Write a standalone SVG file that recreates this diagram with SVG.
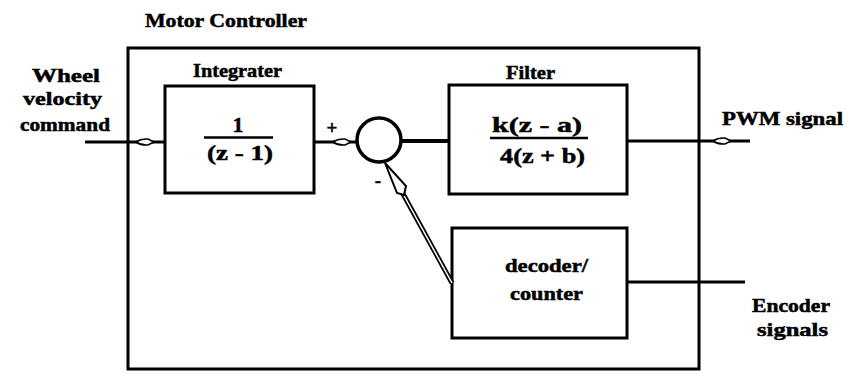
<svg xmlns="http://www.w3.org/2000/svg" width="848" height="374" viewBox="0 0 848 374">
<style>
.box{fill:none;stroke:#000;stroke-width:3}
.ln{fill:none;stroke:#000;stroke-width:3}
text{font-family:"Liberation Serif","DejaVu Serif","Noto Serif","Times New Roman",serif;font-weight:bold;fill:#000;stroke:#000;stroke-width:0.5}
.t{font-size:19px}
.m{font-size:22px}
.hm{fill:#fff;stroke:#000;stroke-width:1.6}
</style>
<defs>
<path id="hollow" d="M-9,0 Q-4,-3.5 3,-3 L9,0 L3,3 Q-4,3.5 -9,0 Z"/>
</defs>
<rect width="848" height="374" fill="#fff"/>
<text class="t" x="145" y="27" textLength="162" lengthAdjust="spacingAndGlyphs">Motor Controller</text>
<g id="controller">
<rect class="box" x="128" y="48" width="571" height="321"/>
</g>
<g id="inputLabel">
<text class="t" x="32" y="82" textLength="68" lengthAdjust="spacingAndGlyphs">Wheel</text>
<text class="t" x="23" y="105" textLength="79" lengthAdjust="spacingAndGlyphs">velocity</text>
<text class="t" x="20" y="131" textLength="90" lengthAdjust="spacingAndGlyphs">command</text>
</g>
<g id="integrator">
<text class="t" x="193" y="77" textLength="89" lengthAdjust="spacingAndGlyphs">Integrater</text>
<rect class="box" x="165" y="86" width="149" height="107"/>
<text class="m" x="238" y="132" text-anchor="middle">1</text>
<line x1="204" y1="137.5" x2="273" y2="137.5" stroke="#000" stroke-width="2.5"/>
<text class="m" x="207" y="160" textLength="66" lengthAdjust="spacingAndGlyphs">(z - 1)</text>
</g>
<g id="sum">
<circle cx="379" cy="140" r="22" fill="none" stroke="#000" stroke-width="3.5"/>
<text class="t" x="332" y="134" text-anchor="middle">+</text>
<text class="t" x="378" y="187" text-anchor="middle">-</text>
</g>
<g id="filter">
<text class="t" x="506" y="79" textLength="49" lengthAdjust="spacingAndGlyphs">Filter</text>
<rect class="box" x="449" y="85" width="178" height="109"/>
<text class="m" x="492" y="132" textLength="90" lengthAdjust="spacingAndGlyphs">k(z - a)</text>
<line x1="490" y1="138" x2="588" y2="138" stroke="#000" stroke-width="2.5"/>
<text class="m" x="500" y="163" textLength="85" lengthAdjust="spacingAndGlyphs">4(z + b)</text>
</g>
<g id="decoder">
<rect class="box" x="452" y="228" width="175" height="110"/>
<text class="t" x="505" y="272" textLength="83" lengthAdjust="spacingAndGlyphs">decoder/</text>
<text class="t" x="510" y="300" textLength="73" lengthAdjust="spacingAndGlyphs">counter</text>
</g>
<g id="outputLabels">
<text class="t" x="722" y="125" textLength="121" lengthAdjust="spacingAndGlyphs">PWM signal</text>
<text class="t" x="752" y="312" textLength="78" lengthAdjust="spacingAndGlyphs">Encoder</text>
<text class="t" x="757" y="336" textLength="71" lengthAdjust="spacingAndGlyphs">signals</text>
</g>
<g id="connectors">
<line class="ln" x1="85" y1="142" x2="165" y2="142"/>
<use href="#hollow" class="hm" transform="translate(145,142)"/>
<line class="ln" x1="314" y1="142" x2="357" y2="142"/>
<use href="#hollow" class="hm" transform="translate(342,142)"/>
<line x1="401" y1="141" x2="449" y2="141" stroke="#000" stroke-width="4"/>
<line class="ln" x1="627" y1="141" x2="750" y2="141"/>
<use href="#hollow" class="hm" transform="translate(722,141)"/>
<line class="ln" x1="627" y1="282" x2="745" y2="282"/>
<line x1="452" y1="283" x2="402" y2="192" stroke="#000" stroke-width="5"/>
<line x1="452" y1="283" x2="402" y2="192" stroke="#fff" stroke-width="1.5"/>
<path d="M385,163 L406,186 L404,195 L397,193 Z" fill="#fff" stroke="#000" stroke-width="2"/>
</g>
</svg>
